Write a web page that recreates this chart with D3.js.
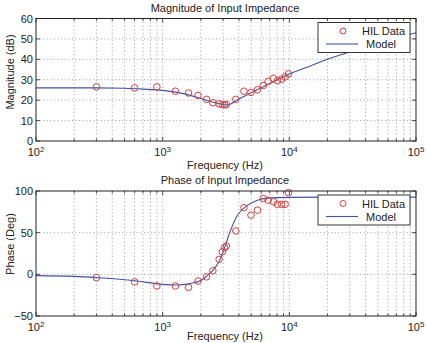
<!DOCTYPE html>
<html>
<head>
<meta charset="utf-8">
<script src="https://cdn.jsdelivr.net/npm/d3@7"></script>
<style>
  html, body { margin: 0; padding: 0; background: #fff; }
  svg { display: block; font-family: "Liberation Sans", Arial, sans-serif; }
</style>
</head>
<body>
<div id="chart"></div>
<script>
// Measured HIL points (shared frequencies)
const freq = [300, 600, 900, 1260, 1600, 1900, 2220, 2490, 2790, 2960, 3080, 3180, 3780, 4380, 4980, 5600, 6230, 6800, 7500, 8060, 8690, 9260, 9850];
const magData = [26.5, 26, 26.5, 24.4, 23.5, 22.3, 20.4, 18.7, 18.2, 17.9, 17.7, 17.9, 20.4, 24.4, 23.8, 25.1, 27.2, 29.2, 30.7, 29.5, 30.3, 31.4, 32.9];
const phaseData = [-4, -9, -14, -14, -15.6, -8, -3, 4.3, 18, 27, 32, 34, 52, 80, 71, 77, 91, 89, 87, 84, 84, 84, 98];

// Model curves
const modelMagFreq = [100, 200, 300, 500, 700, 1000, 1300, 1600, 2000, 2500, 3000, 3200, 4000, 5000, 6300, 8000, 10000, 15000, 20000, 30000, 50000, 100000];
const modelMag = [26, 26, 26, 25.8, 25.4, 24.8, 23.8, 22.6, 20.8, 19, 17.9, 17.6, 20.6, 23.6, 26.7, 29.9, 32.8, 37, 40, 43.6, 48, 53];
const modelPhaseFreq = [100, 200, 300, 500, 700, 1000, 1300, 1650, 2000, 2250, 2500, 2800, 3100, 3400, 3900, 4700, 5600, 6700, 10000, 20000, 100000];
const modelPhase = [-1.5, -2.5, -4, -6.5, -9, -12, -12.8, -11, -7.5, -1.5, 5, 16, 33, 51, 71, 83, 89, 91.5, 92.3, 92.6, 92.6];

// Tick labels
const xDecades = [2, 3, 4, 5];
const magTicks = [0, 10, 20, 30, 40, 50, 60];
const phaseTicks = [-50, 0, 50, 100];
const legendLabels = ["HIL Data", "Model"];

const width = 426, height = 343;
const markerColor = "#d2403f";
const lineColor = "#4252a6";

const svg = d3.select("#chart").append("svg")
    .attr("width", width)
    .attr("height", height);

// minor tick positions for the log axis
const minorTicks = [];
xDecades.slice(0, -1).forEach(e => {
    for (let k = 2; k <= 9; k++) minorTicks.push(k * Math.pow(10, e));
});

function drawPanel({ top, bottom, left, right, yDomain, yTicks, data, modelF, modelV, title, yLabel, yLabelY, xLabelDy }) {
    const x = d3.scaleLog().domain([100, 100000]).range([left, right]);
    const y = d3.scaleLinear().domain(yDomain).range([bottom, top]);

    const g = svg.append("g");

    // grid
    const grid = g.append("g")
        .attr("stroke", "#808080")
        .attr("stroke-width", 0.8)
        .attr("stroke-dasharray", "1,2.6");

    grid.selectAll(".vgrid")
        .data(minorTicks.concat(xDecades.slice(1, -1).map(e => Math.pow(10, e))))
        .enter().append("line")
        .attr("x1", d => x(d)).attr("x2", d => x(d))
        .attr("y1", top).attr("y2", bottom);

    grid.selectAll(".hgrid")
        .data(yTicks.slice(1, -1))
        .enter().append("line")
        .attr("x1", left).attr("x2", right)
        .attr("y1", d => y(d)).attr("y2", d => y(d));

    // model line
    const line = d3.line()
        .x(d => x(d[0]))
        .y(d => y(d[1]))
        .curve(d3.curveMonotoneX);

    g.append("path")
        .datum(modelF.map((f, i) => [f, modelV[i]]))
        .attr("d", line)
        .attr("fill", "none")
        .attr("stroke", lineColor)
        .attr("stroke-width", 1.1);

    // data markers
    g.selectAll(".dot")
        .data(freq.map((f, i) => [f, data[i]]))
        .enter().append("circle")
        .attr("cx", d => x(d[0]))
        .attr("cy", d => y(d[1]))
        .attr("r", 3.3)
        .attr("fill", "none")
        .attr("stroke", markerColor)
        .attr("stroke-width", 1);

    // box + ticks
    g.append("rect")
        .attr("x", left).attr("y", top)
        .attr("width", right - left).attr("height", bottom - top)
        .attr("fill", "none")
        .attr("stroke", "#222")
        .attr("stroke-width", 1);

    const ticks = g.append("g").attr("stroke", "#222").attr("stroke-width", 0.8);
    const majors = xDecades.map(e => Math.pow(10, e));
    majors.forEach(d => {
        ticks.append("line").attr("x1", x(d)).attr("x2", x(d)).attr("y1", bottom).attr("y2", bottom - 4);
        ticks.append("line").attr("x1", x(d)).attr("x2", x(d)).attr("y1", top).attr("y2", top + 4);
    });
    minorTicks.forEach(d => {
        ticks.append("line").attr("x1", x(d)).attr("x2", x(d)).attr("y1", bottom).attr("y2", bottom - 2.5);
        ticks.append("line").attr("x1", x(d)).attr("x2", x(d)).attr("y1", top).attr("y2", top + 2.5);
    });
    yTicks.forEach(d => {
        ticks.append("line").attr("x1", left).attr("x2", left + 4).attr("y1", y(d)).attr("y2", y(d));
        ticks.append("line").attr("x1", right).attr("x2", right - 4).attr("y1", y(d)).attr("y2", y(d));
    });

    // y tick labels
    g.selectAll(".ylab")
        .data(yTicks)
        .enter().append("text")
        .attr("x", left - 3)
        .attr("y", d => y(d) + 4)
        .attr("text-anchor", "end")
        .attr("font-size", 11)
        .attr("fill", "#222")
        .text(d => d < 0 ? "\u2212" + Math.abs(d) : d);

    // x tick labels 10^n
    const xl = g.selectAll(".xlab")
        .data(xDecades)
        .enter().append("text")
        .attr("x", d => x(Math.pow(10, d)))
        .attr("y", bottom + 15)
        .attr("text-anchor", "middle")
        .attr("font-size", 11)
        .attr("fill", "#222");
    xl.append("tspan").text("10");
    xl.append("tspan").attr("dy", -4).attr("font-size", 8).text(d => d);

    // title and axis labels
    g.append("text")
        .attr("x", (left + right) / 2 - 1)
        .attr("y", top - 7)
        .attr("text-anchor", "middle")
        .attr("font-size", 11)
        .attr("fill", "#222")
        .text(title);

    g.append("text")
        .attr("x", (left + right) / 2 - 1)
        .attr("y", bottom + xLabelDy)
        .attr("text-anchor", "middle")
        .attr("font-size", 11)
        .attr("fill", "#222")
        .text("Frequency (Hz)");

    g.append("text")
        .attr("transform", `translate(14,${yLabelY}) rotate(-90)`)
        .attr("text-anchor", "middle")
        .attr("font-size", 11)
        .attr("fill", "#222")
        .text(yLabel);

    // legend
    const lx = right - 98, ly = top + 4, lw = 92, lh = 30;
    const leg = g.append("g");
    leg.append("rect")
        .attr("x", lx).attr("y", ly).attr("width", lw).attr("height", lh)
        .attr("fill", "#fff").attr("stroke", "#222").attr("stroke-width", 0.9);
    leg.append("circle")
        .attr("cx", lx + 25).attr("cy", ly + 8.5).attr("r", 3)
        .attr("fill", "none").attr("stroke", markerColor).attr("stroke-width", 1);
    leg.append("line")
        .attr("x1", lx + 8).attr("x2", lx + 40)
        .attr("y1", ly + 21.5).attr("y2", ly + 21.5)
        .attr("stroke", lineColor).attr("stroke-width", 1.1);
    leg.selectAll(".legtext")
        .data(legendLabels)
        .enter().append("text")
        .attr("x", (d, i) => lx + (i === 0 ? 44 : 48))
        .attr("y", (d, i) => ly + 12.5 + i * 13)
        .attr("font-size", 11)
        .attr("fill", "#222")
        .text(d => d);
}

drawPanel({
    top: 18.5, bottom: 141, left: 36, right: 416,
    yDomain: [0, 60], yTicks: magTicks,
    data: magData, modelF: modelMagFreq, modelV: modelMag,
    title: "Magnitude of Input Impedance",
    yLabel: "Magnitude (dB)", yLabelY: 72, xLabelDy: 28
});

drawPanel({
    top: 191, bottom: 316, left: 36, right: 416,
    yDomain: [-50, 100], yTicks: phaseTicks,
    data: phaseData, modelF: modelPhaseFreq, modelV: modelPhase,
    title: "Phase of Input Impedance",
    yLabel: "Phase (Deg)", yLabelY: 244, xLabelDy: 24
});
</script>
</body>
</html>
